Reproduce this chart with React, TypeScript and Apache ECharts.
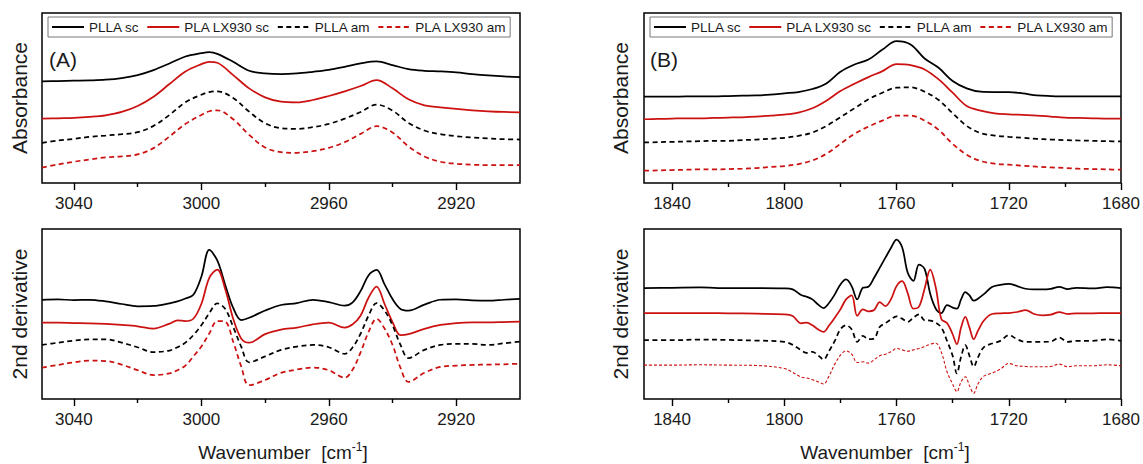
import React, { useEffect, useRef } from "react";
import * as echarts from "echarts";

// ---------- DATA ----------
const seriesNames = ["PLLA sc", "PLA LX930 sc", "PLLA am", "PLA LX930 am"];

// Panel A (top): absorbance, C-H stretching region
const wnA1 = [3050, 3045, 3040, 3035, 3030, 3025, 3020, 3015, 3010, 3005, 3000, 2997.5, 2995, 2990, 2985, 2980, 2975, 2970, 2965, 2960, 2955, 2950, 2945, 2940, 2935, 2930, 2925, 2920, 2915, 2910, 2905, 2900];
const absA_pllaSc = [306, 307, 308, 309, 311, 316, 325, 340, 360, 381, 391, 394, 389, 365, 338, 330, 328, 330, 335, 341, 350, 360, 366, 355, 343, 338, 336, 333, 328, 324, 321, 319];
const absA_plaSc = [194, 195, 196, 199, 204, 214, 232, 260, 298, 336, 358, 365, 362, 325, 285, 258, 245, 243, 250, 262, 276, 292, 310, 285, 252, 234, 228, 223, 219, 216, 214, 213];
const absA_pllaAm = [121, 128, 133, 139, 143, 147, 153, 172, 205, 243, 266, 274, 276, 256, 215, 180, 165, 163, 168, 178, 194, 214, 236, 218, 181, 158, 147, 141, 137, 134, 132, 131];
const absA_plaAm = [46, 56, 64, 71, 77, 80, 86, 105, 140, 178, 205, 216, 219, 192, 145, 107, 93, 91, 96, 106, 123, 148, 171, 152, 110, 80, 64, 58, 55, 54, 54, 54];

// Panel A (bottom): 2nd derivative
const wnA2 = [3050, 3045, 3040, 3035, 3030, 3025, 3020, 3015, 3010, 3007.5, 3005, 3002.5, 3000, 2997.5, 2995, 2992.5, 2990, 2987.5, 2985, 2980, 2975, 2970, 2965, 2960, 2955, 2952.5, 2950, 2947.5, 2945, 2942.5, 2940, 2937.5, 2935, 2930, 2925, 2920, 2915, 2910, 2905, 2900];
const derA_pllaSc = [303, 304, 302, 303, 298, 290, 283, 284, 292, 298, 307, 318, 373, 455, 423, 348, 278, 241, 248, 270, 287, 293, 303, 296, 285, 295, 330, 378, 394, 350, 305, 275, 270, 288, 303, 304, 301, 300, 303, 306];
const derA_plaSc = [233, 233, 232, 231, 229, 226, 222, 215, 230, 240, 238, 245, 290, 370, 395, 335, 245, 185, 172, 198, 212, 218, 228, 233, 218, 228, 255, 310, 343, 290, 235, 195, 198, 214, 226, 232, 234, 234, 235, 236];
const derA_pllaAm = [165, 172, 178, 182, 182, 172, 158, 143, 148, 158, 172, 195, 225, 262, 292, 275, 220, 160, 112, 130, 150, 160, 165, 158, 138, 158, 200, 255, 293, 270, 225, 165, 125, 150, 165, 168, 168, 165, 170, 175];
const derA_plaAm = [96, 104, 112, 117, 116, 105, 88, 73, 78, 88, 102, 130, 160, 200, 238, 236, 175, 100, 42, 58, 80, 90, 96, 88, 65, 90, 143, 205, 245, 215, 165, 95, 52, 80, 98, 102, 104, 105, 106, 108];

// Panel B (top): absorbance, C=O stretching region
const wnB1 = [1850, 1845, 1840, 1835, 1830, 1825, 1820, 1815, 1810, 1805, 1800, 1795, 1790, 1785, 1780, 1775, 1770, 1765, 1760, 1755, 1750, 1745, 1740, 1735, 1730, 1725, 1720, 1715, 1710, 1705, 1700, 1695, 1690, 1685, 1680];
const absB_pllaSc = [260, 260, 260, 261, 261, 261, 262, 263, 264, 266, 270, 274, 283, 300, 335, 357, 372, 402, 427, 417, 375, 347, 307, 285, 275, 274, 274, 270, 264, 262, 261, 261, 261, 261, 261];
const absB_plaSc = [192, 193, 194, 195, 195, 196, 197, 198, 200, 203, 206, 212, 225, 248, 277, 299, 319, 337, 358, 355, 342, 312, 272, 232, 218, 210, 207, 205, 203, 200, 197, 196, 195, 194, 194];
const absB_pllaAm = [122, 123, 124, 125, 126, 127, 127, 129, 131, 133, 136, 142, 152, 172, 198, 225, 252, 272, 287, 288, 275, 250, 210, 172, 150, 143, 139, 136, 133, 131, 129, 128, 127, 126, 125];
const absB_plaAm = [37, 38, 39, 40, 41, 41, 42, 43, 45, 48, 51, 57, 68, 88, 118, 148, 170, 188, 203, 203, 188, 160, 118, 85, 66, 58, 55, 52, 49, 47, 45, 43, 42, 41, 40];

// Panel B (bottom): 2nd derivative
const wnB2 = [1850, 1840, 1830, 1820, 1810, 1800, 1797, 1794, 1792, 1790, 1788, 1786, 1784, 1782, 1780, 1778, 1776, 1774, 1772, 1770, 1768, 1766, 1764, 1762, 1760, 1758, 1756, 1754, 1752, 1750, 1748, 1746, 1744, 1742, 1740, 1738.5, 1737, 1735.5, 1734, 1732.5, 1731, 1729, 1726, 1723, 1720, 1717, 1714, 1711, 1708, 1705, 1702, 1699, 1696, 1690, 1685, 1680];
const derB_pllaSc = [334, 335, 336, 334, 334, 333, 330, 313, 308, 300, 285, 274, 290, 315, 345, 360, 340, 300, 335, 338, 365, 395, 425, 455, 480, 457, 380, 356, 405, 392, 317, 272, 259, 283, 275, 272, 300, 322, 312, 296, 302, 315, 337, 344, 347, 340, 332, 330, 330, 332, 338, 331, 335, 333, 337, 334];
const derB_plaSc = [259, 259, 259, 258, 257, 255, 250, 228, 230, 222, 210, 202, 222, 245, 270, 300, 312, 250, 270, 264, 268, 292, 280, 300, 340, 355, 318, 272, 278, 332, 390, 335, 240, 229, 195, 165, 215, 247, 215, 180, 205, 235, 256, 258, 259, 262, 268, 256, 252, 254, 262, 256, 258, 258, 259, 259];
const derB_pllaAm = [177, 177, 179, 178, 176, 172, 163, 147, 139, 142, 132, 119, 145, 175, 210, 222, 210, 172, 190, 180, 182, 217, 228, 240, 249, 242, 232, 245, 255, 237, 236, 230, 215, 175, 130, 77, 127, 162, 130, 97, 125, 155, 167, 175, 192, 180, 172, 172, 172, 173, 185, 172, 175, 175, 180, 175];
const derB_plaAm = [102, 102, 103, 102, 101, 92, 80, 66, 63, 58, 52, 45, 70, 105, 132, 145, 135, 110, 112, 108, 118, 130, 135, 142, 152, 148, 144, 148, 152, 158, 165, 168, 140, 82, 45, 22, 52, 67, 40, 17, 45, 68, 78, 90, 107, 100, 98, 97, 97, 98, 105, 97, 100, 100, 103, 100];

// Axis ticks
const majorTicksA = [3040, 3000, 2960, 2920];
const minorTicksA = [3020, 2980, 2940];
const majorTicksB = [1840, 1800, 1760, 1720, 1680];
const minorTicksB = [1820, 1780, 1740, 1700];

// ---------- STYLE ----------
const FONT = "'Liberation Sans', Arial, Helvetica, sans-serif";
const BLACK = "#000000";
const RED = "#cc1111";
const TEXT = "#1a1a1a";

const panels = [
  { left: 42, top: 13, width: 478, height: 170, min: 2900, max: 3050, yMax: 512, major: majorTicksA, minor: minorTicksA },
  { left: 42, top: 229, width: 478, height: 170, min: 2900, max: 3050, yMax: 519, major: majorTicksA, minor: minorTicksA },
  { left: 644, top: 13, width: 477, height: 170, min: 1680, max: 1850, yMax: 512, major: majorTicksB, minor: minorTicksB },
  { left: 644, top: 229, width: 477, height: 170, min: 1680, max: 1850, yMax: 512, major: majorTicksB, minor: minorTicksB },
];

const zip = (xs: number[], ys: number[]) => xs.map((x, i) => [x, ys[i]]);

function makeSeries(name: string, panel: number, xs: number[], ys: number[], color: string, dashed: boolean, width = 1.75, dash: number[] = [5, 3.5]) {
  return {
    name,
    type: "line",
    xAxisIndex: panel * 2,
    yAxisIndex: panel,
    data: zip(xs, ys),
    symbol: "none",
    legendIcon: "none",
    smooth: 0.35,
    lineStyle: { color, width, type: dashed ? dash : "solid" },
    itemStyle: { color },
    z: 3,
  };
}

export default function App() {
  const ref = useRef<HTMLDivElement>(null);
  useEffect(() => {
    if (!ref.current) return;
    const chart = echarts.init(ref.current, undefined, { renderer: "svg" });

    const grid = panels.map((p) => ({
      left: p.left, top: p.top, width: p.width, height: p.height,
      show: true, borderColor: BLACK, borderWidth: 1.5, backgroundColor: "transparent", containLabel: false,
    }));

    const xAxis: any[] = [];
    panels.forEach((p, i) => {
      xAxis.push({
        type: "value", gridIndex: i, min: p.min, max: p.max, inverse: true, position: "bottom",
        axisLine: { show: false },
        axisTick: { show: true, inside: false, length: 7, customValues: p.major, lineStyle: { color: BLACK, width: 1.4 } },
        axisLabel: { show: true, customValues: p.major, margin: 12, fontSize: 17, color: TEXT, fontFamily: FONT, formatter: (v: number) => String(v) },
        splitLine: { show: false },
      });
      xAxis.push({
        type: "value", gridIndex: i, min: p.min, max: p.max, inverse: true, position: "bottom", offset: 0,
        axisLine: { show: false },
        axisTick: { show: true, inside: false, length: 4, customValues: p.minor, lineStyle: { color: BLACK, width: 1.4 } },
        axisLabel: { show: false },
        splitLine: { show: false },
      });
    });

    const yAxis = panels.map((p, i) => ({
      type: "value", gridIndex: i, min: 0, max: p.yMax, show: false,
      splitLine: { show: false },
    }));

    const series = [
      makeSeries(seriesNames[0], 0, wnA1, absA_pllaSc, BLACK, false),
      makeSeries(seriesNames[1], 0, wnA1, absA_plaSc, RED, false),
      makeSeries(seriesNames[2], 0, wnA1, absA_pllaAm, BLACK, true),
      makeSeries(seriesNames[3], 0, wnA1, absA_plaAm, RED, true),
      makeSeries(seriesNames[0], 1, wnA2, derA_pllaSc, BLACK, false),
      makeSeries(seriesNames[1], 1, wnA2, derA_plaSc, RED, false),
      makeSeries(seriesNames[2], 1, wnA2, derA_pllaAm, BLACK, true),
      makeSeries(seriesNames[3], 1, wnA2, derA_plaAm, RED, true),
      makeSeries(seriesNames[0], 2, wnB1, absB_pllaSc, BLACK, false),
      makeSeries(seriesNames[1], 2, wnB1, absB_plaSc, RED, false),
      makeSeries(seriesNames[2], 2, wnB1, absB_pllaAm, BLACK, true),
      makeSeries(seriesNames[3], 2, wnB1, absB_plaAm, RED, true),
      makeSeries(seriesNames[0], 3, wnB2, derB_pllaSc, BLACK, false),
      makeSeries(seriesNames[1], 3, wnB2, derB_plaSc, RED, false),
      makeSeries(seriesNames[2], 3, wnB2, derB_pllaAm, BLACK, true),
      makeSeries(seriesNames[3], 3, wnB2, derB_plaAm, RED, true, 1.1, [3, 2]),
    ];

    const legendBase = {
      data: seriesNames,
      orient: "horizontal",
      top: 17,
      itemWidth: 32,
      itemHeight: 14,
      itemGap: 7,
      padding: [3, 4, 3, 3],
      borderColor: "#777",
      borderWidth: 1,
      backgroundColor: "#fff",
      selectedMode: false,
      itemStyle: { opacity: 0 },
      textStyle: { fontSize: 13.5, color: TEXT, fontFamily: FONT },
      z: 10,
    };

    const vText = (text: string, x: number, y: number) => ({
      type: "text", x, y, rotation: Math.PI / 2,
      style: { text, fill: TEXT, font: `21px ${FONT}`, textAlign: "center", textVerticalAlign: "middle" },
      z: 10,
    });
    const pText = (text: string, x: number, y: number) => ({
      type: "text", x, y,
      style: { text, fill: TEXT, font: `21px ${FONT}`, textAlign: "left", textVerticalAlign: "middle" },
      z: 10,
    });
    const wnText = (x: number) => ({
      type: "text", x, y: 452,
      style: {
        text: "{a|Wavenumber  [cm}{b|-1}{a|]}",
        textAlign: "center", textVerticalAlign: "middle",
        rich: {
          a: { fontSize: 19, fontFamily: FONT, fill: TEXT, lineHeight: 22 },
          b: { fontSize: 12, fontFamily: FONT, fill: TEXT, verticalAlign: "top", lineHeight: 12, padding: [0, 0, 8, 0] },
        },
      },
      z: 10,
    });

    chart.setOption({
      animation: false,
      backgroundColor: "#ffffff",
      textStyle: { fontFamily: FONT },
      grid,
      xAxis,
      yAxis,
      legend: [
        { ...legendBase, left: 48 },
        { ...legendBase, left: 650 },
      ],
      series,
      graphic: [
        vText("Absorbance", 19, 98),
        vText("2nd derivative", 19, 314),
        vText("Absorbance", 620, 98),
        vText("2nd derivative", 620, 314),
        pText("(A)", 49, 59),
        pText("(B)", 650, 59),
        wnText(283),
        wnText(885),
      ],
    });

    return () => chart.dispose();
  }, []);

  return (
    <div
      ref={ref}
      style={{ position: "fixed", left: 0, top: 0, width: 1143, height: 464, background: "#fff" }}
    />
  );
}
